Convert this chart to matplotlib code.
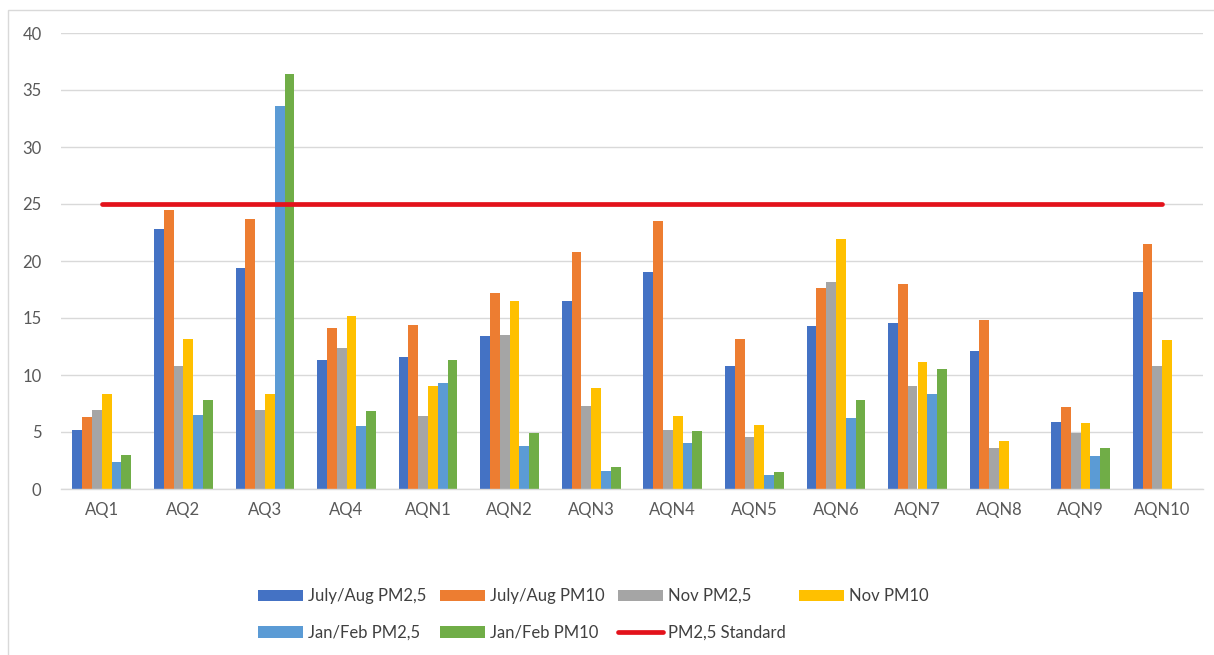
import numpy as np
import matplotlib
matplotlib.use("Agg")
import matplotlib.pyplot as plt
from matplotlib.patches import Rectangle

# -----------------------------------------------------
# Data: PM concentrations per monitoring site
# -----------------------------------------------------
sites = ["AQ1", "AQ2", "AQ3", "AQ4", "AQN1", "AQN2", "AQN3",
         "AQN4", "AQN5", "AQN6", "AQN7", "AQN8", "AQN9", "AQN10"]

jul_aug_pm25 = [5.2, 22.8, 19.4, 11.3, 11.6, 13.4, 16.5, 19.0, 10.8, 14.3, 14.6, 12.1, 5.9, 17.3]
jul_aug_pm10 = [6.3, 24.5, 23.7, 14.1, 14.4, 17.2, 20.8, 23.5, 13.2, 17.6, 18.0, 14.8, 7.2, 21.5]
nov_pm25 = [6.9, 10.8, 6.9, 12.4, 6.4, 13.5, 7.3, 5.2, 4.6, 18.2, 9.0, 3.6, 4.9, 10.8]
nov_pm10 = [8.3, 13.2, 8.3, 15.2, 9.0, 16.5, 8.9, 6.4, 5.6, 21.9, 11.1, 4.2, 5.8, 13.1]
jan_feb_pm25 = [2.4, 6.5, 33.6, 5.5, 9.3, 3.8, 1.6, 4.0, 1.2, 6.2, 8.3, np.nan, 2.9, np.nan]
jan_feb_pm10 = [3.0, 7.8, 36.4, 6.8, 11.3, 4.9, 1.9, 5.1, 1.5, 7.8, 10.5, np.nan, 3.6, np.nan]
pm25_standard = 25

series = [
    ("July/Aug PM2,5", jul_aug_pm25, "#4472C4"),
    ("July/Aug PM10", jul_aug_pm10, "#ED7D31"),
    ("Nov PM2,5", nov_pm25, "#A5A5A5"),
    ("Nov PM10", nov_pm10, "#FFC000"),
    ("Jan/Feb PM2,5", jan_feb_pm25, "#5B9BD5"),
    ("Jan/Feb PM10", jan_feb_pm10, "#70AD47"),
]

plt.rcParams["font.family"] = ["Lato", "DejaVu Sans"]

# -----------------------------------------------------
# Figure
# -----------------------------------------------------
fig = plt.figure(figsize=(12.14, 6.55), dpi=100)
ax = fig.add_axes([61 / 1214, 1 - 489 / 655, (1203 - 61) / 1214, (489 - 33) / 655])

# light chart-area frame
fig.patches.append(Rectangle((8 / 1214, -0.05), 1.1, 1 - 10 / 655 + 0.05,
                             transform=fig.transFigure, fill=False,
                             edgecolor="#D9D9D9", linewidth=1.0))

x = np.arange(len(sites))
n = len(series)
group_w = 0.72
bar_w = group_w / n

handles = {}
for i, (label, vals, color) in enumerate(series):
    offs = -group_w / 2 + bar_w * (i + 0.5)
    h = ax.bar(x + offs, vals, width=bar_w, color=color, label=label, zorder=2)
    handles[label] = h

std_line, = ax.plot(x, [pm25_standard] * len(sites), color="#E3121B",
                    linewidth=3.4, solid_capstyle="round", zorder=3,
                    label="PM2,5 Standard")

ax.set_xlim(-0.5, len(sites) - 0.5)
ax.set_ylim(0, 40)
ax.set_yticks(range(0, 41, 5))
ax.set_xticks(x)
ax.set_xticklabels(sites)

ax.yaxis.grid(True, color="#D9D9D9", linewidth=1.0, zorder=0)
ax.set_axisbelow(True)
for side in ["top", "right", "left"]:
    ax.spines[side].set_visible(False)
ax.spines["bottom"].set_color("#D9D9D9")
ax.spines["bottom"].set_linewidth(1.0)
ax.tick_params(axis="both", length=0, labelsize=12, colors="#595959")
ax.tick_params(axis="y", pad=14)
ax.tick_params(axis="x", pad=9)

# legend rows: four entries on top, three below
order = ["July/Aug PM2,5", "Jan/Feb PM2,5", "July/Aug PM10", "Jan/Feb PM10",
         "Nov PM2,5", "PM2,5 Standard", "Nov PM10"]
handles["PM2,5 Standard"] = std_line
fig.legend([handles[k] for k in order], order, ncol=4,
           loc="upper left", bbox_to_anchor=(243 / 1214, 1 - 573 / 655),
           frameon=False, fontsize=12, handlelength=2.7, handleheight=0.65,
           handletextpad=0.3, columnspacing=0.8, labelspacing=1.25,
           labelcolor="#404040")

fig.savefig("out.png", dpi=100)
